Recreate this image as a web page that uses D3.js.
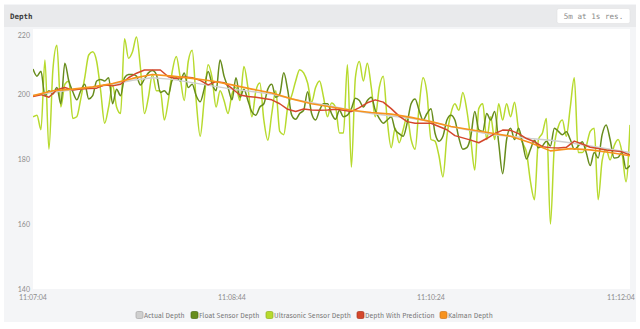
<!DOCTYPE html>
<html>
<head>
<meta charset="utf-8">
<script src="https://cdn.jsdelivr.net/npm/d3@7"></script>
<style>
  html, body { margin: 0; padding: 0; background: #ffffff; }
  svg { display: block; }
</style>
</head>
<body>
<svg id="chart" width="640" height="329"></svg>
<script>
// Depth readings over five minutes, one value per sample step.
const startTime = "11:07:04";
const endTime = "11:12:04";
const yTicks = [140, 160, 180, 200, 220];
const xTickLabels = ["11:07:04", "11:08:44", "11:10:24", "11:12:04"];

// Raw sensors sampled every 2 s
const sensorStep = 2;
const ultrasonicDepth = [
  193, 193.5, 189, 210.5, 183, 207.5, 215, 196, 203, 204,
  192.5, 193, 198.5, 205, 212, 213, 210, 201, 191, 196,
  202.8, 196, 194, 217, 211, 213, 217.5, 208, 194, 199,
  206, 201, 201, 192, 198, 207, 211.5, 205, 198, 210,
  213.5, 198, 187, 198, 209, 205, 196, 201, 198, 194,
  200, 202, 198, 208.5, 202, 193, 201, 203.4, 192, 185.8,
  194, 201, 188.5, 187.5, 196, 199.5, 204, 207.5, 206.5, 203.4,
  197.5, 202, 204, 199, 193, 197.2, 196, 188, 188, 209,
  177.5, 205, 210, 204, 209.5, 202, 193, 202, 205.5, 192,
  183.5, 189.5, 185, 189, 193, 186, 183, 196, 205, 200,
  186, 185.5, 181, 174.5, 187, 194, 197, 195, 200.5, 195,
  186, 176.6, 195.5, 197, 186, 193, 186, 197, 192, 197,
  193, 197.5, 189, 185, 182, 173, 167.5, 186, 188, 192.5,
  160, 184, 190, 192, 187, 196, 205, 182, 182, 184,
  188.5, 189.5, 167.5, 179.5, 183, 179.7, 184, 186, 182, 173,
  190.5
];
const floatDepth = [
  207.7, 205.5, 207, 199.5, 201, 200, 202, 197, 209.5, 204,
  200.7, 198.2, 201, 203, 198.5, 199.5, 204, 204.5, 204, 205,
  197, 201.5, 199.5, 205, 206, 206, 205.5, 202.8, 204.6, 206.5,
  207.2, 206, 200.5, 201, 199.8, 204.3, 205, 204, 206.5, 202,
  203, 199.5, 197.6, 201.5, 206.9, 203, 201, 210.5, 205.5, 202,
  198.2, 205, 199, 201.5, 198, 194.5, 193.5, 196, 197, 201.5,
  203, 199, 200, 206.5, 201.2, 193.5, 192.2, 194, 195, 200.7,
  194, 192, 195, 197, 197, 194, 192.2, 195, 193, 193.5,
  195.5, 198.7, 198, 196, 198, 199, 195, 192.5, 191, 192,
  193, 189, 187.8, 187, 191, 197, 198.5, 195, 192, 194,
  195.5, 188, 185.5, 187, 192, 193.5, 192, 186.5, 183, 183.5,
  187, 194.6, 189, 188.5, 194, 192, 194.6, 185, 175.5, 186,
  189.5, 186, 189.5, 185, 180, 183, 185.8, 183.5, 184, 185.5,
  184, 189.5, 188.5, 187.5, 188.4, 186, 183, 184, 185.3, 182,
  178, 182, 180.3, 187.5, 190.5, 186, 180.3, 180.5, 182, 177,
  178
];

// Fused estimate with prediction, every 4 s
const predictionStep = 4;
const predictionDepth = [
  199.2, 199.8, 199, 201.3, 202, 201.2, 201.5, 201.7, 201.8, 202.8,
  202.5, 203, 205, 206.4, 207.4, 207.4, 207.4, 205.3, 204.8, 205.2,
  205, 204.2, 202.8, 203.8, 203.5, 201.7, 199.7, 199.2, 199, 198.6,
  198.2, 197, 195.3, 194.6, 195.4, 195.1, 195, 195.1, 195.3, 195,
  194.6, 195.8, 197.3, 198.2, 197.5, 195.5, 193.2, 191.5, 191, 191,
  191, 190, 189, 187.2, 186.5, 185.8, 185, 186.3, 187.8, 188.9,
  188.8, 187.8, 186.3, 185.3, 183.8, 183.5, 183.4, 183.6, 185.5, 184.6,
  183.6, 183.2, 182.8, 182.5, 182.2, 181.2
];

// Smoothed series, every 10 s
const smoothStep = 10;
const kalmanDepth = [
  199.5, 201, 201.5, 202.2, 203.2, 204.8, 206, 205.5, 204.8, 204,
  202.8, 201.5, 200.3, 198.5, 197, 196, 195, 194.3, 193.8, 192.8,
  191.5, 190, 189, 188, 187, 185, 182.5, 183.2, 182.8, 182,
  181
];
const actualDepth = [
  199.5, 200.5, 201.3, 202, 203, 204.2, 205, 204.5, 203.5, 202.5,
  201.5, 200.8, 200, 198.5, 197.3, 196.2, 195, 194, 193.2, 192.5,
  191.5, 190, 188.8, 187.5, 187, 186.3, 185.8, 185, 184, 183,
  182
];

const seriesNames = ["Actual Depth", "Float Sensor Depth", "Ultrasonic Sensor Depth", "Depth With Prediction", "Kalman Depth"];
const seriesColors = ["#cfcfcf", "#678c1c", "#b7da2e", "#d4472c", "#f7931e"];
const swatchBorders = ["#a8a8a8", "#4c6a12", "#8fb01c", "#a83520", "#d0761a"];

const parseT = d3.timeParse("%Y-%m-%d %H:%M:%S");
const t0 = parseT("2024-01-01 " + startTime);
const t1 = parseT("2024-01-01 " + endTime);
const toPoints = (vals, step) => vals.map((v, i) => ({ t: new Date(t0.getTime() + i * step * 1000), v }));

const svg = d3.select("#chart");
const W = 640, H = 329;

// Panel chrome
svg.append("rect").attr("x", 4).attr("y", 4).attr("width", 632).attr("height", 318).attr("fill", "#f4f5f7");
svg.append("rect").attr("x", 4).attr("y", 5).attr("width", 632).attr("height", 22).attr("fill", "#e9eaec");
svg.append("text").attr("x", 10).attr("y", 18.5)
  .attr("font-family", "DejaVu Sans Mono").attr("font-weight", "bold").attr("font-size", 7.5)
  .attr("fill", "#3a3a3a").text("Depth");
svg.append("rect").attr("x", 557).attr("y", 8.5).attr("width", 73).attr("height", 15).attr("rx", 2)
  .attr("fill", "#ffffff").attr("stroke", "#e0e1e3").attr("stroke-width", 0.6);
svg.append("text").attr("x", 593.5).attr("y", 18.5).attr("text-anchor", "middle")
  .attr("font-family", "DejaVu Sans Mono").attr("font-size", 7.6)
  .attr("fill", "#8a8a8a").text("5m at 1s res.");

const plot = { left: 33, right: 630, top: 29, bottom: 289 };
svg.append("rect").attr("x", plot.left).attr("y", plot.top)
  .attr("width", plot.right - plot.left).attr("height", plot.bottom - plot.top).attr("fill", "#ffffff");

const x = d3.scaleTime().domain([t0, t1]).range([plot.left, plot.right]);
const y = d3.scaleLinear().domain([140, 220]).range([plot.bottom, plot.top]);

// Y tick labels
svg.append("g").selectAll("text").data(yTicks).join("text")
  .attr("x", plot.left - 3)
  .attr("y", d => Math.max(y(d), plot.top + 6) + 2.5)
  .attr("text-anchor", "end")
  .attr("font-family", "Lato, 'Noto Sans', sans-serif").attr("font-size", 7)
  .attr("fill", "#8c8c8c").text(d => d);

// X tick labels
const xTicks = xTickLabels.map(s => parseT("2024-01-01 " + s));
const fmt = d3.timeFormat("%H:%M:%S");
svg.append("g").selectAll("text").data(xTicks).join("text")
  .attr("x", d => Math.min(x(d), plot.right - 9))
  .attr("y", 299.5)
  .attr("text-anchor", "middle")
  .attr("font-family", "Lato, 'Noto Sans', sans-serif").attr("font-size", 7)
  .attr("fill", "#8c8c8c").text(d => fmt(d));

// Lines
const g = svg.append("g");
g.append("clipPath").attr("id", "clip").append("rect")
  .attr("x", plot.left).attr("y", plot.top).attr("width", plot.right - plot.left).attr("height", plot.bottom - plot.top);
const lineSmooth = d3.line().x(d => x(d.t)).y(d => y(d.v)).curve(d3.curveMonotoneX);
const lineStraight = d3.line().x(d => x(d.t)).y(d => y(d.v));

const layers = [
  { data: toPoints(ultrasonicDepth, sensorStep), color: seriesColors[2], gen: lineSmooth, w: 1.5 },
  { data: toPoints(floatDepth, sensorStep), color: seriesColors[1], gen: lineSmooth, w: 1.5 },
  { data: toPoints(actualDepth, smoothStep), color: seriesColors[0], gen: lineStraight, w: 1.5 },
  { data: toPoints(predictionDepth, predictionStep), color: seriesColors[3], gen: lineStraight, w: 1.5 },
  { data: toPoints(kalmanDepth, smoothStep), color: seriesColors[4], gen: lineStraight, w: 1.6 }
];
g.selectAll("path").data(layers).join("path")
  .attr("clip-path", "url(#clip)")
  .attr("fill", "none")
  .attr("stroke", d => d.color)
  .attr("stroke-width", d => d.w)
  .attr("stroke-linejoin", "round")
  .attr("d", d => d.gen(d.data));

// Legend
const legendX = [136, 191, 266, 357, 440];
const lg = svg.append("g").attr("font-family", "'Fira Sans', Lato, 'Noto Sans', sans-serif").attr("font-size", 7);
const items = lg.selectAll("g").data(seriesNames).join("g")
  .attr("transform", (d, i) => `translate(${legendX[i]},315)`);
items.append("rect").attr("x", 0).attr("y", -3.5).attr("width", 7).attr("height", 7).attr("rx", 1.5)
  .attr("fill", (d, i) => seriesColors[i]).attr("stroke", (d, i) => swatchBorders[i]).attr("stroke-width", 0.7);
items.append("text").attr("x", 8).attr("y", 2.5).attr("fill", "#7a7a7a").text(d => d);
</script>
</body>
</html>
